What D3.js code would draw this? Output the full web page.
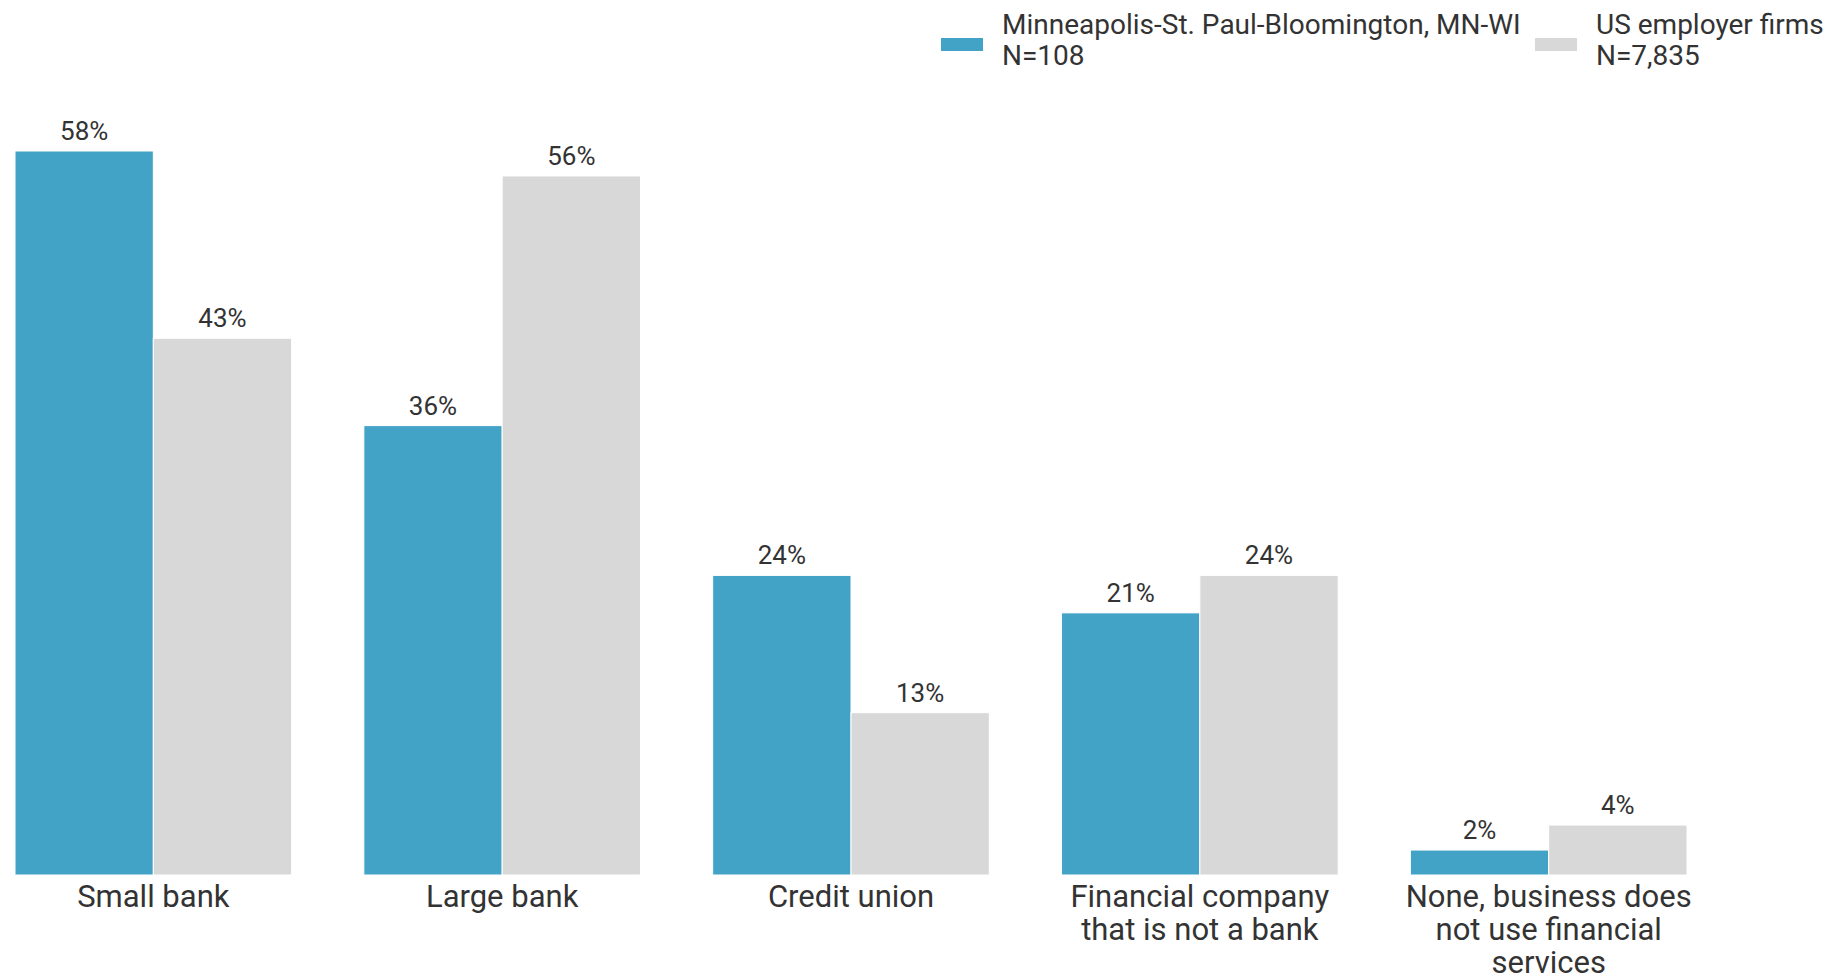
<!DOCTYPE html>
<html>
<head>
<meta charset="utf-8">
<script src="https://cdn.jsdelivr.net/npm/d3@7"></script>
<style>
  body { margin: 0; background: #fff; }
  text { font-family: Roboto, "Noto Sans", sans-serif; fill: #333; }
</style>
</head>
<body>
<svg id="chart"></svg>
<script>
const categories = ["Small bank", "Large bank", "Credit union", "Financial company that is not a bank", "None, business does not use financial services"];
const categoryLines = [["Small bank"], ["Large bank"], ["Credit union"], ["Financial company", "that is not a bank"], ["None, business does", "not use financial", "services"]];
const seriesNames = ["msp", "us"];
const mspValues = [58, 36, 24, 21, 2];
const usValues = [43, 56, 13, 24, 4];
const legendLabels = [["Minneapolis-St. Paul-Bloomington, MN-WI", "N=108"], ["US employer firms", "N=7,835"]];
const colors = ["#42a3c7", "#d8d8d8"];

const width = 1829, height = 975;

const svg = d3.select("#chart")
    .attr("width", width)
    .attr("height", height);

// scales
const x = d3.scaleBand()
    .domain(categories)
    .range([15, 1687])
    .paddingInner(0.207)
    .paddingOuter(0);

const xs = d3.scaleBand()
    .domain(seriesNames)
    .range([0, x.bandwidth()]);

const y = d3.scaleLinear()
    .domain([0, 58])
    .range([875, 151]);

const color = d3.scaleOrdinal().domain(seriesNames).range(colors);

const rows = categories.map((c, i) => ({
    cat: c,
    vals: [{key: "msp", v: mspValues[i]}, {key: "us", v: usValues[i]}]
}));

const groups = svg.append("g").selectAll("g")
    .data(rows)
    .join("g")
    .attr("transform", d => `translate(${x(d.cat)},0)`);

groups.selectAll("rect")
    .data(d => d.vals)
    .join("rect")
    .attr("x", d => xs(d.key))
    .attr("y", d => y(d.v))
    .attr("width", xs.bandwidth())
    .attr("height", d => y(0) - y(d.v))
    .attr("fill", d => color(d.key))
    .attr("stroke", "#fff")
    .attr("stroke-width", 1);

groups.selectAll("text.val")
    .data(d => d.vals)
    .join("text")
    .attr("class", "val")
    .attr("x", d => xs(d.key) + xs.bandwidth() / 2)
    .attr("y", d => y(d.v) - 11)
    .attr("text-anchor", "middle")
    .style("font-size", "26px")
    .text(d => d.v + "%");

// category labels
const xAxis = svg.append("g");
xAxis.selectAll("text")
    .data(categories)
    .join("text")
    .attr("x", d => x(d) + x.bandwidth() / 2)
    .attr("y", 907)
    .attr("text-anchor", "middle")
    .style("font-size", "31px")
    .selectAll("tspan")
    .data((d, i) => categoryLines[i])
    .join("tspan")
    .attr("x", function() { return d3.select(this.parentNode).attr("x"); })
    .attr("dy", (d, i) => i === 0 ? 0 : 33)
    .text(d => d);

// legend
const legendX = [941, 1535];
const legend = svg.append("g");
const items = legend.selectAll("g")
    .data(seriesNames)
    .join("g")
    .attr("transform", (d, i) => `translate(${legendX[i]},0)`);

items.append("rect")
    .attr("x", 0)
    .attr("y", 38)
    .attr("width", 42)
    .attr("height", 13)
    .attr("fill", d => color(d));

items.append("text")
    .attr("x", 61)
    .attr("y", 34)
    .style("font-size", "28px")
    .selectAll("tspan")
    .data((d, i) => legendLabels[i])
    .join("tspan")
    .attr("x", 61)
    .attr("dy", (d, i) => i === 0 ? 0 : 31)
    .text(d => d);
</script>
</body>
</html>
